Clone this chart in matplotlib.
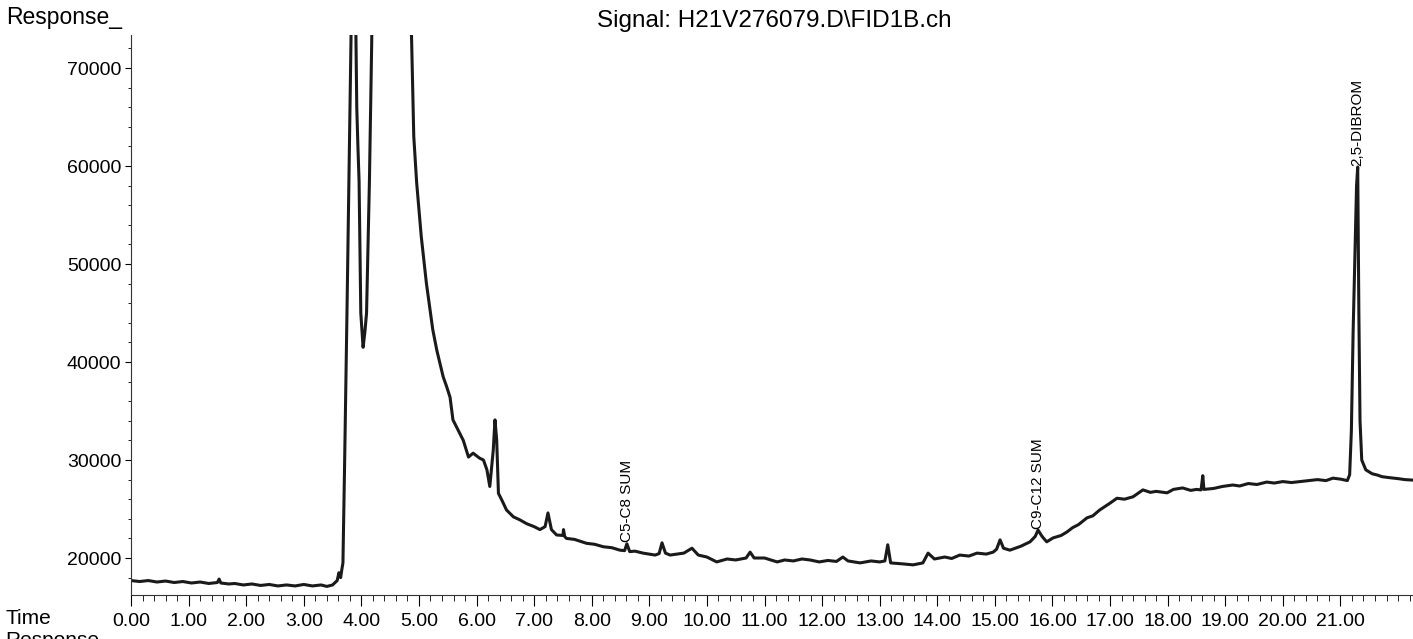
import numpy as np
import matplotlib
matplotlib.use("Agg")
import matplotlib.pyplot as plt
from matplotlib.ticker import MultipleLocator

plt.rcParams['font.family'] = ['Liberation Sans', 'DejaVu Sans']

# chromatogram trace (time in min, response)
times = [0.00, 0.15, 0.30, 0.45, 0.60, 0.75, 0.90, 1.05, 1.20, 1.35, 1.50, 1.53, 1.56, 1.70, 1.80, 1.95,
         2.10, 2.25, 2.40, 2.55, 2.70, 2.85, 3.00, 3.15, 3.30, 3.40, 3.50,
         3.58, 3.61, 3.64, 3.66, 3.68, 3.71, 3.75, 3.78, 3.82, 3.86, 3.90, 3.92, 3.94, 3.96, 3.99,
         4.03, 4.06, 4.09, 4.14, 4.18, 4.22, 4.50, 4.85, 4.87, 4.91, 4.96, 5.04, 5.13, 5.24, 5.31,
         5.42, 5.48, 5.54, 5.59, 5.65, 5.77, 5.86, 5.94, 6.05, 6.12, 6.18, 6.23, 6.29, 6.32, 6.35,
         6.38, 6.44, 6.52, 6.64, 6.75, 6.87, 7.00, 7.10, 7.19, 7.24, 7.30, 7.39, 7.50, 7.51, 7.53, 7.56,
         7.70, 7.91, 8.05, 8.20, 8.35, 8.49, 8.57, 8.61, 8.66, 8.75, 8.89, 9.10, 9.17, 9.22, 9.28, 9.36,
         9.60, 9.74, 9.85, 10.00, 10.17, 10.35, 10.50, 10.68, 10.75, 10.82, 11.00, 11.22, 11.35, 11.50,
         11.65, 11.79, 11.95, 12.10, 12.25, 12.36, 12.45, 12.66, 12.85, 13.00, 13.09, 13.14, 13.19, 13.40,
         13.58, 13.75, 13.84, 13.95, 14.13, 14.25, 14.39, 14.55, 14.69, 14.85, 14.97, 15.03, 15.09,
         15.15, 15.26, 15.45, 15.61, 15.70, 15.75, 15.82, 15.90, 16.01, 16.15, 16.25, 16.35, 16.45,
         16.60, 16.70, 16.82, 17.00, 17.12, 17.25, 17.40, 17.57, 17.70, 17.80, 17.99, 18.10, 18.26,
         18.40, 18.50, 18.58, 18.61, 18.63, 18.80, 18.95, 19.13, 19.25, 19.40, 19.55, 19.72, 19.85,
         20.00, 20.15, 20.30, 20.45, 20.60, 20.75, 20.87, 21.00, 21.12, 21.16, 21.19, 21.22, 21.26,
         21.28, 21.30, 21.32, 21.34, 21.37, 21.44, 21.55, 21.65, 21.72, 21.85, 22.00, 22.12, 22.26]
response = [17700, 17600, 17700, 17550, 17650, 17500, 17600, 17450, 17550, 17400, 17500, 17850, 17450, 17350, 17400, 17250,
            17350, 17200, 17300, 17150, 17250, 17150, 17300, 17150, 17250, 17100, 17250,
            17700, 18500, 18000, 18800, 19500, 30000, 45000, 57000, 73000, 150000, 76000, 66000, 62000, 58500, 45000,
            41500, 43000, 45000, 58500, 72800, 100000, 500000, 100000, 73500, 63000, 58300, 52800, 48000, 43300, 41200,
            38500, 37500, 36400, 34100, 33400, 32000, 30300, 30700, 30200, 30000, 29000, 27300, 31000, 34100, 32000,
            26600, 25900, 24900, 24200, 23900, 23500, 23200, 22900, 23200, 24600, 22900, 22350, 22300, 22900, 22200, 22000,
            21900, 21500, 21400, 21150, 21050, 20800, 20750, 21450, 20650, 20700, 20500, 20300, 20450, 21550, 20500, 20300,
            20500, 21000, 20300, 20100, 19600, 19900, 19800, 20000, 20600, 20000, 20000, 19600, 19800, 19700,
            19900, 19800, 19600, 19750, 19650, 20100, 19700, 19500, 19700, 19600, 19700, 21350, 19500, 19400,
            19300, 19500, 20500, 19900, 20100, 19950, 20300, 20200, 20500, 20400, 20600, 20900, 21850,
            21000, 20800, 21200, 21650, 22200, 22850, 22200, 21650, 22050, 22300, 22650, 23100, 23400,
            24100, 24300, 24900, 25600, 26100, 26000, 26250, 26950, 26700, 26800, 26650, 27000, 27150,
            26900, 27000, 26950, 28400, 27000, 27100, 27300, 27450, 27350, 27600, 27500, 27750, 27650,
            27800, 27700, 27800, 27900, 28000, 27900, 28150, 28050, 27900, 28500, 33000, 43000, 53000,
            58000, 59900, 45000, 34000, 30000, 29000, 28600, 28450, 28300, 28200, 28100, 28000, 27950]

peak_names = ["C5-C8 SUM", "C9-C12 SUM", "2,5-DIBROM"]
peak_times = [8.61, 15.75, 21.30]
peak_heights = [21450, 22850, 59900]

fig = plt.figure(figsize=(14.13, 6.39), dpi=100)
ax = fig.add_axes([131 / 1413, 1 - 595 / 639, (1413 - 131) / 1413, (595 - 35) / 639])

ax.plot(times, response, color='#1a1a1a', lw=2.2)

for name, t, h in zip(peak_names, peak_times, peak_heights):
    ax.text(t, h + 150, name, rotation=90, ha='center', va='bottom', fontsize=11)

ax.set_xlim(0, 22.26)
ax.set_ylim(16225, 73370)

ax.set_xticks(np.arange(0, 22, 1))
ax.set_xticklabels([f"{t:.2f}" for t in range(22)], fontsize=14)
ax.xaxis.set_minor_locator(MultipleLocator(0.2))
ax.set_yticks(np.arange(20000, 70001, 10000))
ax.set_yticklabels([str(v) for v in range(20000, 70001, 10000)], fontsize=14)
ax.yaxis.set_minor_locator(MultipleLocator(2000))

ax.tick_params(axis='x', which='major', direction='out', length=8, width=0.8, pad=5)
ax.tick_params(axis='x', which='minor', direction='out', length=4, width=0.6)
ax.tick_params(axis='y', which='major', direction='out', length=4, width=0.8, pad=3)
ax.tick_params(axis='y', which='minor', direction='out', length=2, width=0.6)

for side in ['top', 'right']:
    ax.spines[side].set_visible(False)
for side in ['left', 'bottom']:
    ax.spines[side].set_linewidth(0.8)
    ax.spines[side].set_color('#333333')

fig.text(6 / 1413, 1 - 24 / 639, "Response_", fontsize=16.5, va='baseline')
fig.text(774 / 1413, 1 - 27 / 639, r"Signal: H21V276079.D\FID1B.ch", fontsize=17.5, ha='center', va='baseline')
fig.text(5 / 1413, 1 - 624 / 639, "Time", fontsize=15, va='baseline')
fig.text(5 / 1413, 1 - 631 / 639, "Response", fontsize=15, va='top')

fig.savefig("out.png", dpi=100, facecolor='white')
